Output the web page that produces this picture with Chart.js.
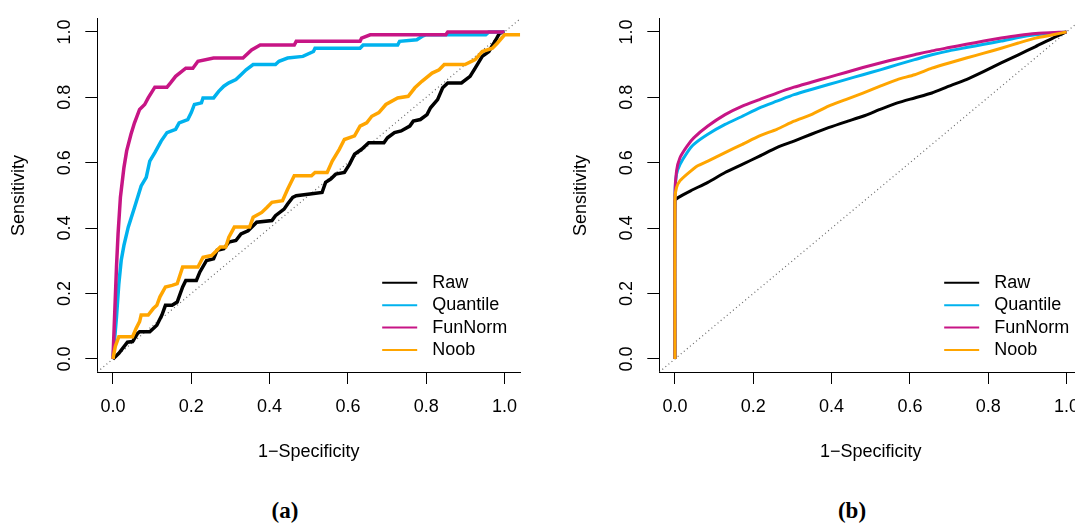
<!DOCTYPE html>
<html>
<head>
<meta charset="utf-8">
<script src="https://cdn.jsdelivr.net/npm/chart.js@4.4.0/dist/chart.umd.min.js"></script>
<style>
  html, body { margin: 0; padding: 0; background: #fff; overflow: hidden; }
  body { width: 1075px; height: 524px; position: relative; }
  .panel { position: absolute; top: 0; width: 560px; height: 480px; }
  .tag { position: absolute; top: 498px; font: bold 23px "Liberation Serif", serif; transform: translateX(-50%); }
</style>
</head>
<body>
<div class="panel" style="left:0"><canvas id="rocA"></canvas></div>
<div class="panel" style="left:562px"><canvas id="rocB"></canvas></div>
<div class="tag" style="left:285px">(a)</div>
<div class="tag" style="left:852px">(b)</div>
<script>
// series names / colours / ticks
const seriesNames = ['Raw', 'Quantile', 'FunNorm', 'Noob'];
const seriesColors = ['#000000', '#00B2EE', '#C71585', '#FFA500'];
const tickValues = [0, 0.2, 0.4, 0.6, 0.8, 1.0];
const diagonal = [[-0.04, -0.04], [1.04, 1.04]];

// panel (a): empirical ROC curves, [1-specificity, sensitivity]
const rawA = [[0,0],[0.015,0.017],[0.037,0.051],[0.050,0.053],[0.063,0.078],[0.068,0.083],[0.094,0.083],[0.112,0.103],[0.125,0.134],[0.134,0.164],[0.151,0.164],[0.164,0.174],[0.178,0.220],[0.186,0.240],[0.213,0.240],[0.222,0.266],[0.239,0.301],[0.257,0.306],[0.266,0.332],[0.283,0.337],[0.296,0.357],[0.314,0.362],[0.327,0.382],[0.345,0.392],[0.367,0.418],[0.406,0.423],[0.415,0.438],[0.437,0.458],[0.446,0.474],[0.459,0.494],[0.468,0.499],[0.503,0.504],[0.534,0.509],[0.543,0.540],[0.556,0.550],[0.569,0.565],[0.591,0.570],[0.604,0.595],[0.617,0.626],[0.635,0.641],[0.653,0.661],[0.692,0.661],[0.701,0.676],[0.719,0.692],[0.736,0.697],[0.758,0.712],[0.767,0.727],[0.785,0.732],[0.802,0.747],[0.811,0.768],[0.829,0.793],[0.842,0.829],[0.855,0.844],[0.890,0.844],[0.912,0.864],[0.925,0.889],[0.943,0.925],[0.960,0.940],[0.978,0.976],[0.987,0.996],[1,1]];
const quantA = [[0,0],[0.009,0.129],[0.015,0.230],[0.021,0.301],[0.028,0.347],[0.039,0.403],[0.055,0.463],[0.072,0.529],[0.085,0.555],[0.094,0.605],[0.107,0.631],[0.123,0.666],[0.138,0.692],[0.160,0.702],[0.169,0.722],[0.191,0.732],[0.200,0.753],[0.208,0.778],[0.226,0.783],[0.230,0.798],[0.257,0.798],[0.270,0.818],[0.283,0.834],[0.296,0.844],[0.314,0.854],[0.327,0.869],[0.340,0.884],[0.358,0.900],[0.415,0.900],[0.424,0.910],[0.446,0.920],[0.485,0.925],[0.512,0.940],[0.516,0.950],[0.631,0.950],[0.639,0.960],[0.727,0.960],[0.732,0.971],[0.776,0.976],[0.789,0.986],[0.798,0.991],[0.952,0.991],[0.960,1],[1,1]];
const funA = [[0,0],[0.009,0.281],[0.013,0.382],[0.019,0.494],[0.028,0.585],[0.035,0.636],[0.046,0.687],[0.055,0.722],[0.068,0.763],[0.081,0.778],[0.090,0.798],[0.107,0.831],[0.138,0.831],[0.147,0.844],[0.160,0.864],[0.186,0.889],[0.204,0.889],[0.217,0.910],[0.257,0.920],[0.332,0.920],[0.354,0.945],[0.376,0.960],[0.463,0.960],[0.468,0.971],[0.631,0.971],[0.635,0.981],[0.657,0.991],[0.850,0.991],[0.855,1],[1,1]];
const noobA = [[0,0],[0.006,0.038],[0.015,0.068],[0.050,0.068],[0.059,0.093],[0.068,0.114],[0.072,0.134],[0.090,0.134],[0.103,0.154],[0.112,0.164],[0.120,0.190],[0.134,0.220],[0.151,0.225],[0.164,0.230],[0.178,0.281],[0.217,0.281],[0.230,0.311],[0.252,0.316],[0.274,0.342],[0.288,0.342],[0.296,0.372],[0.310,0.403],[0.349,0.403],[0.358,0.433],[0.380,0.448],[0.393,0.463],[0.406,0.479],[0.433,0.484],[0.446,0.519],[0.463,0.560],[0.507,0.560],[0.516,0.570],[0.547,0.570],[0.560,0.605],[0.578,0.641],[0.591,0.671],[0.617,0.682],[0.631,0.712],[0.648,0.722],[0.661,0.742],[0.679,0.753],[0.697,0.778],[0.727,0.798],[0.754,0.803],[0.771,0.829],[0.789,0.849],[0.815,0.874],[0.833,0.884],[0.846,0.900],[0.899,0.900],[0.925,0.915],[0.943,0.940],[0.969,0.950],[0.982,0.966],[1,0.991],[1.04,0.991]];

// panel (b): smoothed ROC curves
const rawB = [[0,0],[0,0.484],[0.009,0.494],[0.04,0.514],[0.084,0.54],[0.128,0.57],[0.172,0.595],[0.216,0.62],[0.26,0.646],[0.304,0.666],[0.348,0.687],[0.392,0.707],[0.436,0.725],[0.48,0.742],[0.524,0.763],[0.568,0.783],[0.612,0.798],[0.656,0.813],[0.7,0.834],[0.744,0.854],[0.789,0.879],[0.833,0.905],[0.877,0.93],[0.921,0.955],[0.965,0.981],[1,1]];
const quantB = [[0,0],[0,0.5],[0.004,0.565],[0.013,0.595],[0.031,0.631],[0.048,0.656],[0.084,0.687],[0.128,0.717],[0.172,0.742],[0.216,0.768],[0.26,0.788],[0.304,0.808],[0.348,0.824],[0.392,0.839],[0.436,0.854],[0.48,0.869],[0.524,0.884],[0.568,0.9],[0.612,0.915],[0.656,0.93],[0.7,0.942],[0.744,0.952],[0.789,0.962],[0.833,0.972],[0.877,0.983],[0.921,0.991],[1,1]];
const funB = [[0,0],[0,0.5],[0.004,0.575],[0.013,0.616],[0.031,0.651],[0.048,0.676],[0.084,0.712],[0.128,0.747],[0.172,0.773],[0.216,0.793],[0.26,0.813],[0.304,0.831],[0.348,0.846],[0.392,0.861],[0.436,0.876],[0.48,0.891],[0.524,0.905],[0.568,0.918],[0.612,0.93],[0.656,0.942],[0.7,0.952],[0.744,0.962],[0.789,0.972],[0.833,0.981],[0.877,0.989],[0.921,0.995],[1,1]];
const noobB = [[0,0],[0,0.49],[0.004,0.524],[0.013,0.545],[0.031,0.565],[0.057,0.59],[0.084,0.605],[0.128,0.631],[0.172,0.656],[0.216,0.682],[0.26,0.702],[0.304,0.727],[0.348,0.747],[0.392,0.773],[0.436,0.793],[0.48,0.813],[0.524,0.834],[0.568,0.854],[0.612,0.869],[0.656,0.889],[0.7,0.905],[0.744,0.92],[0.789,0.935],[0.833,0.95],[0.877,0.966],[0.921,0.981],[0.965,0.991],[1,1]];

const axisFont = { family: '"Liberation Sans", Arial, sans-serif', size: 18 };
const toXY = pts => pts.map(p => ({ x: p[0], y: p[1] }));

// R style legend in the bottom right corner
const rocLegend = {
  id: 'rocLegend',
  afterDraw(chart) {
    const { ctx, chartArea } = chart;
    ctx.save();
    ctx.font = '18px "Liberation Sans", Arial, sans-serif';
    const textW = Math.max(...seriesNames.map(n => ctx.measureText(n).width));
    const textX = chartArea.right - 13 - textW;
    seriesNames.forEach((name, i) => {
      const y = chartArea.bottom - 22 - (seriesNames.length - 1 - i) * 22.4;
      ctx.strokeStyle = seriesColors[i];
      ctx.lineWidth = 2;
      ctx.beginPath();
      ctx.moveTo(textX - 50, y);
      ctx.lineTo(textX - 15, y);
      ctx.stroke();
      ctx.fillStyle = '#000';
      ctx.textBaseline = 'middle';
      ctx.fillText(name, textX, y);
    });
    ctx.restore();
  }
};

function axis(extra) {
  return Object.assign({
    type: 'linear', min: -0.04, max: 1.04,
    afterBuildTicks: s => { s.ticks = tickValues.map(v => ({ value: v })); },
    grid: { drawOnChartArea: false, drawTicks: true, tickLength: 12, color: '#000', lineWidth: 1 },
    border: { display: true, color: '#000', width: 1 }
  }, extra);
}

function makeRoc(id, curves, width, tension) {
  const datasets = curves.map((c, i) => ({
    data: toXY(c),
    borderColor: seriesColors[i],
    borderWidth: width,
    pointRadius: 0,
    tension: tension,
    order: 4 - i
  }));
  datasets.push({
    data: toXY(diagonal), borderColor: '#666', borderWidth: 1.2,
    borderDash: [1, 3], pointRadius: 0, order: 10
  });
  new Chart(document.getElementById(id), {
    type: 'line',
    data: { datasets },
    options: {
      responsive: true, maintainAspectRatio: false, animation: false,
      devicePixelRatio: 1, events: [],
      layout: { padding: { left: 0, right: 39.8, top: 17.2, bottom: 0 } },
      plugins: { legend: { display: false }, tooltip: { enabled: false } },
      scales: {
        x: axis({
          afterFit: s => { s.height = 108; },
          ticks: { color: '#000', font: axisFont, padding: 12, maxRotation: 0, autoSkip: false, callback: v => v.toFixed(1) },
          title: { display: true, text: '1\u2212Specificity', color: '#000', font: axisFont, padding: { bottom: 17 } }
        }),
        y: axis({
          afterFit: s => { s.width = 97.3; },
          ticks: { color: '#000', font: axisFont, padding: 8, minRotation: 90, maxRotation: 90, crossAlign: 'center', autoSkip: false, callback: v => v.toFixed(1) },
          title: { display: true, text: 'Sensitivity', color: '#000', font: axisFont, padding: { top: 8 } }
        })
      }
    },
    plugins: [rocLegend]
  });
}

makeRoc('rocA', [rawA, quantA, funA, noobA], 3.5, 0);
makeRoc('rocB', [rawB, quantB, funB, noobB], 3, 0.2);
</script>
</body>
</html>
